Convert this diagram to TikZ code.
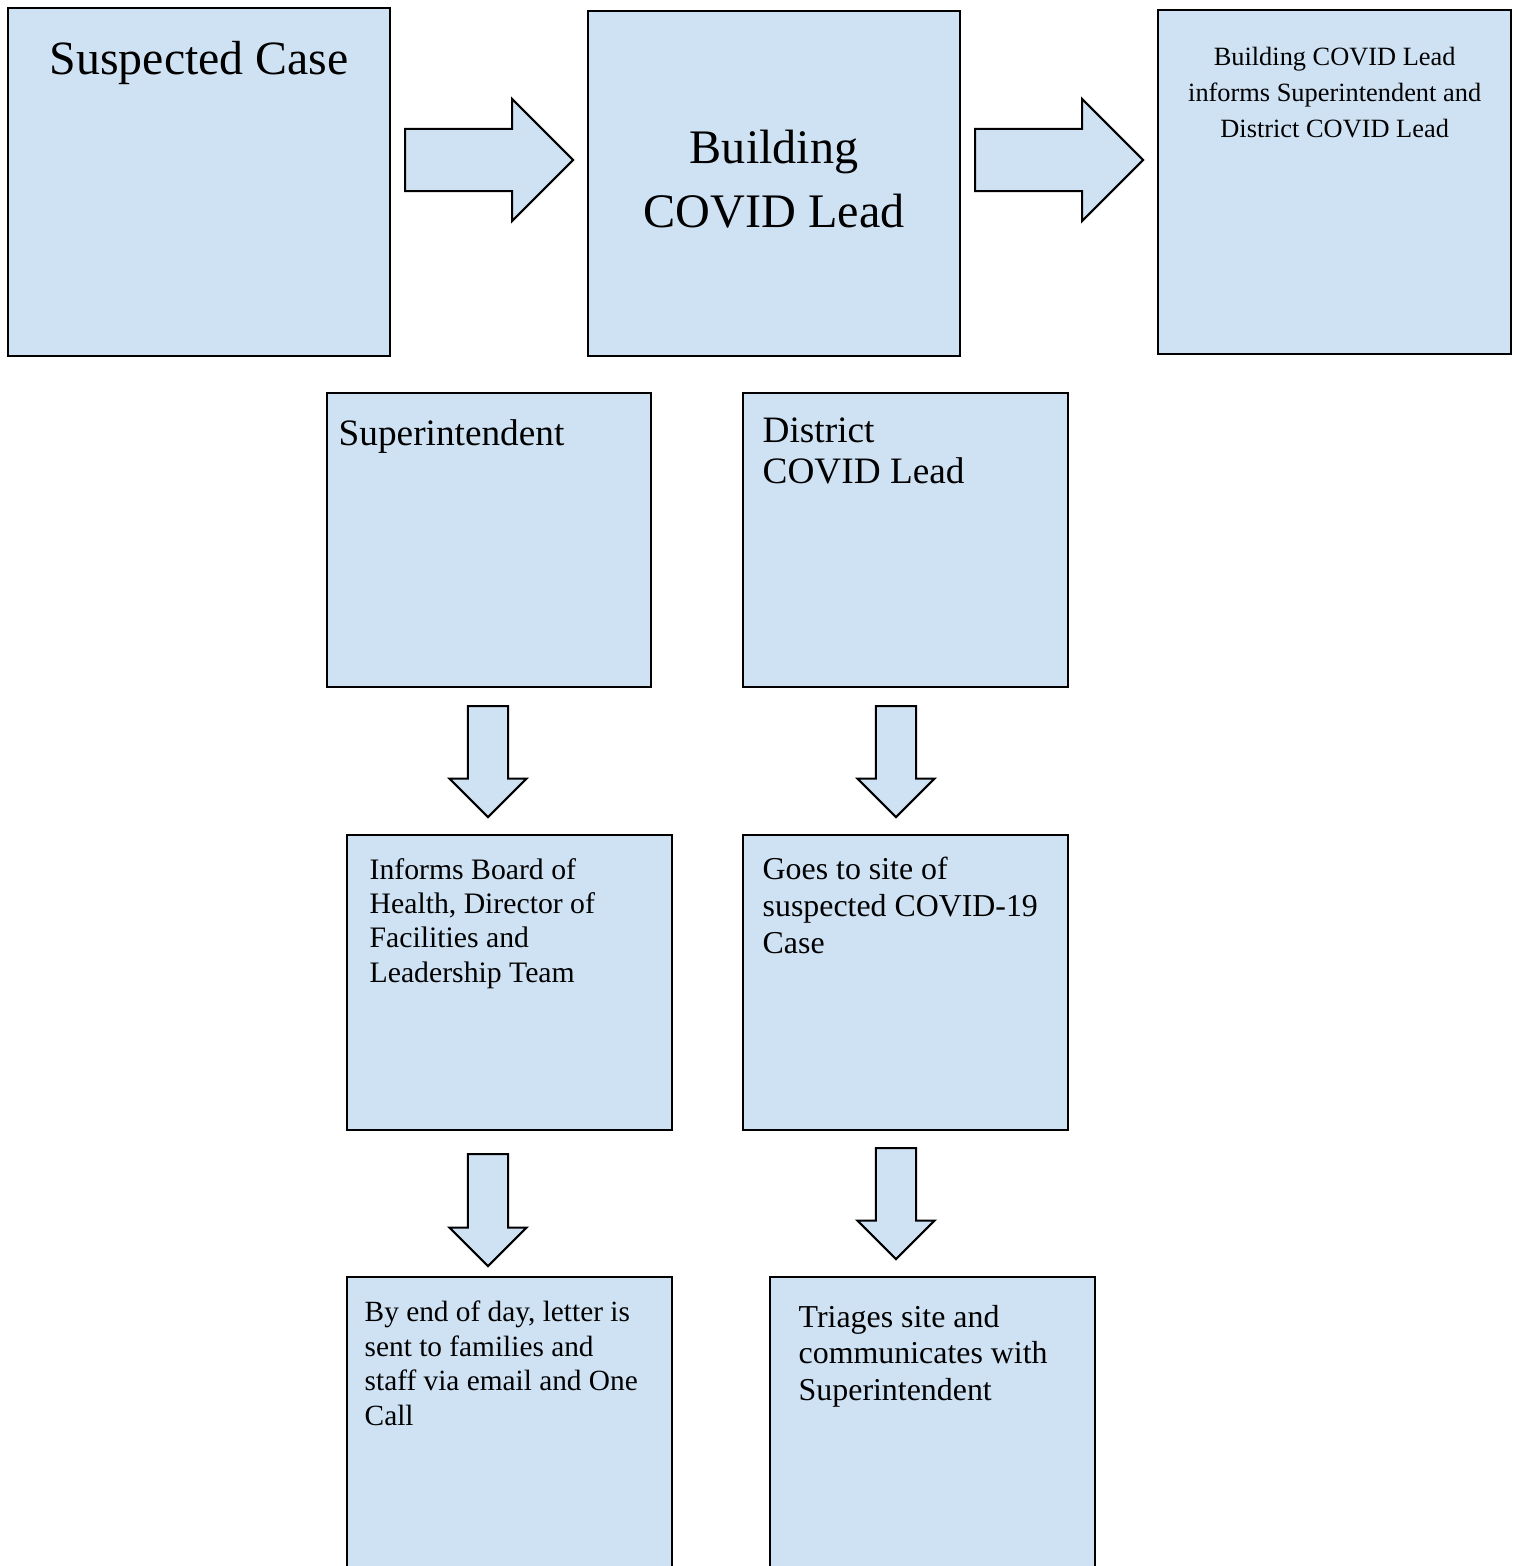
\documentclass[tikz,border=0pt]{standalone}
\usepackage{fontspec}
\setmainfont{Liberation Serif}
\usetikzlibrary{shapes.arrows,calc}
\definecolor{paleblue}{HTML}{CFE2F3}
\tikzset{
  box/.style={draw,fill=paleblue,line width=0.6pt,anchor=north west,inner sep=0pt},
  txt/.style={inner sep=0pt,align=left,anchor=base west},
  blockarrow/.style={single arrow,draw,fill=paleblue,line width=0.6pt,anchor=tail},
  rightarrow/.style={blockarrow,inner sep=0.3cm,minimum height=1.68cm,minimum width=1.2cm,single arrow head extend=0.3cm},
  downarrow/.style={blockarrow,shape border rotate=270,inner sep=0.19cm,minimum height=1.11cm,minimum width=0.76cm,single arrow head extend=0.185cm}
}
\begin{document}
\begin{tikzpicture}[x=0.01cm,y=-0.01cm]
\useasboundingbox (0,0) rectangle (1517,1566);
\clip (0,0) rectangle (1517,1566);
% top row
\node[box,minimum width=3.82cm,minimum height=3.48cm] (suspect) at (7,7) {};
\node[box,minimum width=3.72cm,minimum height=3.45cm] (bldlead) at (587,10) {};
\node[box,minimum width=3.53cm,minimum height=3.44cm] (notify) at (1157,9) {};
% base of a multi-line text is its last line
\node[txt,anchor=base,align=center,font=\fontsize{13.6}{18}\selectfont] (suspecttxt) at ($(suspect.north)+(0,67)$) {Suspected Case};
\node[txt,anchor=base,align=center,font=\fontsize{13.7}{18.2}\selectfont] (bldleadtxt) at ($(bldlead.north)+(0,217)$) {Building\\COVID Lead};
\node[txt,anchor=base,align=center,font=\fontsize{7.5}{10.2}\selectfont] (notifytxt) at ($(notify.north)+(0,128)$) {Building COVID Lead\\informs Superintendent and\\District COVID Lead};
\node[rightarrow] (arrA) at (404,160) {};
\node[rightarrow] (arrB) at (974,160) {};
% second row
\node[box,minimum width=3.24cm,minimum height=2.94cm] (supt) at (326,392) {};
\node[box,minimum width=3.25cm,minimum height=2.94cm] (dist) at (742,392) {};
\node[txt,font=\fontsize{10.6}{11.4}\selectfont] (supttxt) at ($(supt.north west)+(12,53)$) {Superintendent};
\node[txt,font=\fontsize{10.6}{11.4}\selectfont] (disttxt) at ($(dist.north west)+(20,91)$) {District\\COVID Lead};
\node[downarrow] (arrC) at (488,705) {};
\node[downarrow] (arrD) at (896,705) {};
% third row
\node[box,minimum width=3.25cm,minimum height=2.95cm] (board) at (346,834) {};
\node[box,minimum width=3.25cm,minimum height=2.95cm] (site) at (742,834) {};
\node[txt,font=\fontsize{8.45}{9.7}\selectfont] (boardtxt) at ($(board.north west)+(23,148)$) {Informs Board of\\Health, Director of\\Facilities and\\Leadership Team};
\node[txt,font=\fontsize{9.06}{10.5}\selectfont] (sitetxt) at ($(site.north west)+(20,119)$) {Goes to site of\\suspected COVID-19\\Case};
\node[downarrow,minimum height=1.12cm] (arrE) at (488,1153) {};
\node[downarrow] (arrF) at (896,1147) {};
% bottom row
\node[box,minimum width=3.25cm,minimum height=3.4cm] (letter) at (346,1276) {};
\node[box,minimum width=3.25cm,minimum height=3.4cm] (triage) at (769,1276) {};
\node[txt,font=\fontsize{8.34}{9.8}\selectfont] (lettertxt) at ($(letter.north west)+(18,149)$) {By end of day, letter is\\sent to families and\\staff via email and One\\Call};
\node[txt,font=\fontsize{9.07}{10.3}\selectfont] (triagetxt) at ($(triage.north west)+(29,124)$) {Triages site and\\communicates with\\Superintendent};
\end{tikzpicture}
\end{document}
